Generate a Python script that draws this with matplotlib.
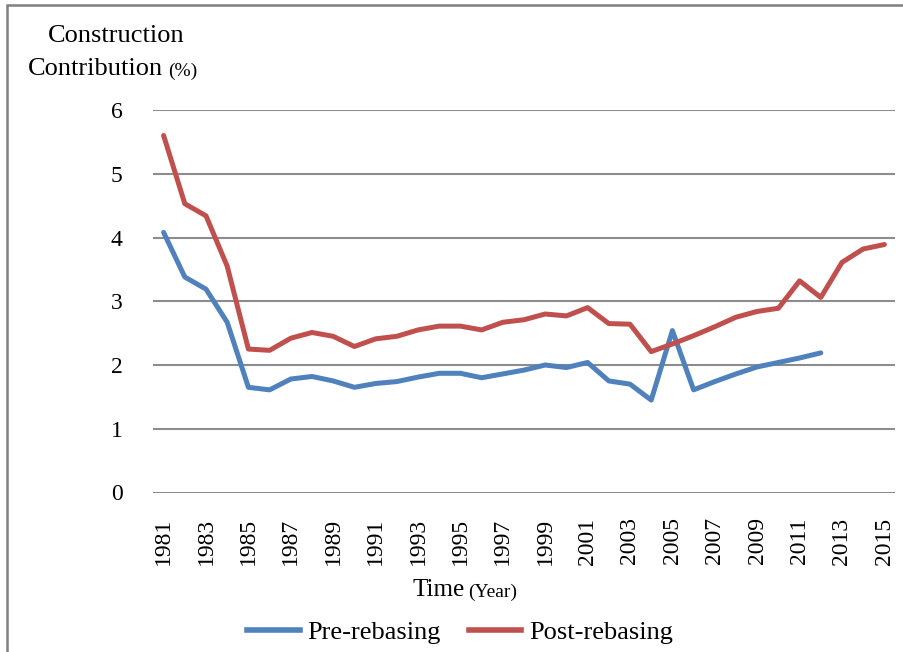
import matplotlib
matplotlib.use("Agg")
import matplotlib.pyplot as plt
from matplotlib.lines import Line2D
from matplotlib.patches import Rectangle

plt.rcParams['font.family'] = ['Liberation Serif', 'DejaVu Serif']

# values
years = list(range(1981, 2016))
pre_rebasing = [4.08, 3.38, 3.19, 2.67, 1.65, 1.61, 1.78, 1.82, 1.75, 1.65,
                1.71, 1.74, 1.81, 1.87, 1.87, 1.80, 1.86, 1.92, 2.00, 1.96,
                2.04, 1.75, 1.70, 1.45, 2.54, 1.61, 1.74, 1.86, 1.97, 2.04,
                2.11, 2.19]
post_rebasing = [5.60, 4.53, 4.34, 3.55, 2.25, 2.23, 2.42, 2.51, 2.45, 2.29,
                 2.41, 2.45, 2.55, 2.61, 2.61, 2.55, 2.67, 2.71, 2.80, 2.77,
                 2.90, 2.65, 2.64, 2.21, 2.33, 2.46, 2.60, 2.75, 2.84, 2.89,
                 3.32, 3.06, 3.61, 3.82, 3.89]
series_names = ["Pre-rebasing", "Post-rebasing"]
y_ticks = [0, 1, 2, 3, 4, 5, 6]
x_ticks = years[::2]

blue = "#4F81BD"
red = "#C0504D"
grid_col = "#8C8C8C"

fig = plt.figure(figsize=(9.04, 6.52), dpi=100)
ax = fig.add_axes([153 / 904, 1 - 492.5 / 652, (895 - 153) / 904, (492.5 - 110) / 652])

ax.plot(years[:len(pre_rebasing)], pre_rebasing, color=blue, lw=3.6,
        solid_joinstyle="round", solid_capstyle="round")
ax.plot(years[:len(post_rebasing)], post_rebasing, color=red, lw=3.6,
        solid_joinstyle="round", solid_capstyle="round")

ax.set_xlim(1980.5, 2015.5)
ax.set_ylim(0, 6)
ax.set_yticks(y_ticks)
ax.set_xticks(x_ticks)
ax.set_xticklabels([str(y) for y in x_ticks], rotation=90)
for s in ax.spines.values():
    s.set_visible(False)
ax.tick_params(length=0, labelsize=17)
ax.tick_params(axis='y', pad=22)
ax.tick_params(axis='x', pad=18)
for yv in y_ticks:
    ax.axhline(yv, color=grid_col, lw=1.5, zorder=0)

# y axis title, top left
fig.text(48 / 904, 1 - 36 / 652, "Construction", fontsize=19, va="center", ha="left")
fig.text(28 / 904, 1 - 69 / 652, "Contribution", fontsize=19, va="center", ha="left")
fig.text(168 / 904, 1 - 71 / 652, "(%)", fontsize=14, va="center", ha="left")

# x axis title
fig.text(465 / 904, 1 - 590 / 652, "Time", fontsize=18, va="center", ha="right")
fig.text(468 / 904, 1 - 592 / 652, "(Year)", fontsize=14, va="center", ha="left")

# legend
handles = [Line2D([], [], color=blue, lw=4), Line2D([], [], color=red, lw=4)]
fig.legend(handles, series_names, loc="center", bbox_to_anchor=(460 / 904, 1 - 632 / 652),
           ncol=2, frameon=False, fontsize=19, handlelength=2.0, handletextpad=0.3,
           columnspacing=1.05)

# outer frame
fig.patches.append(Rectangle((7 / 904, -0.1), 1.2, 1 - 5 / 652 + 0.1,
                             transform=fig.transFigure, fill=False,
                             edgecolor="#808080", lw=1.8))

fig.savefig("out.png", dpi=100)
